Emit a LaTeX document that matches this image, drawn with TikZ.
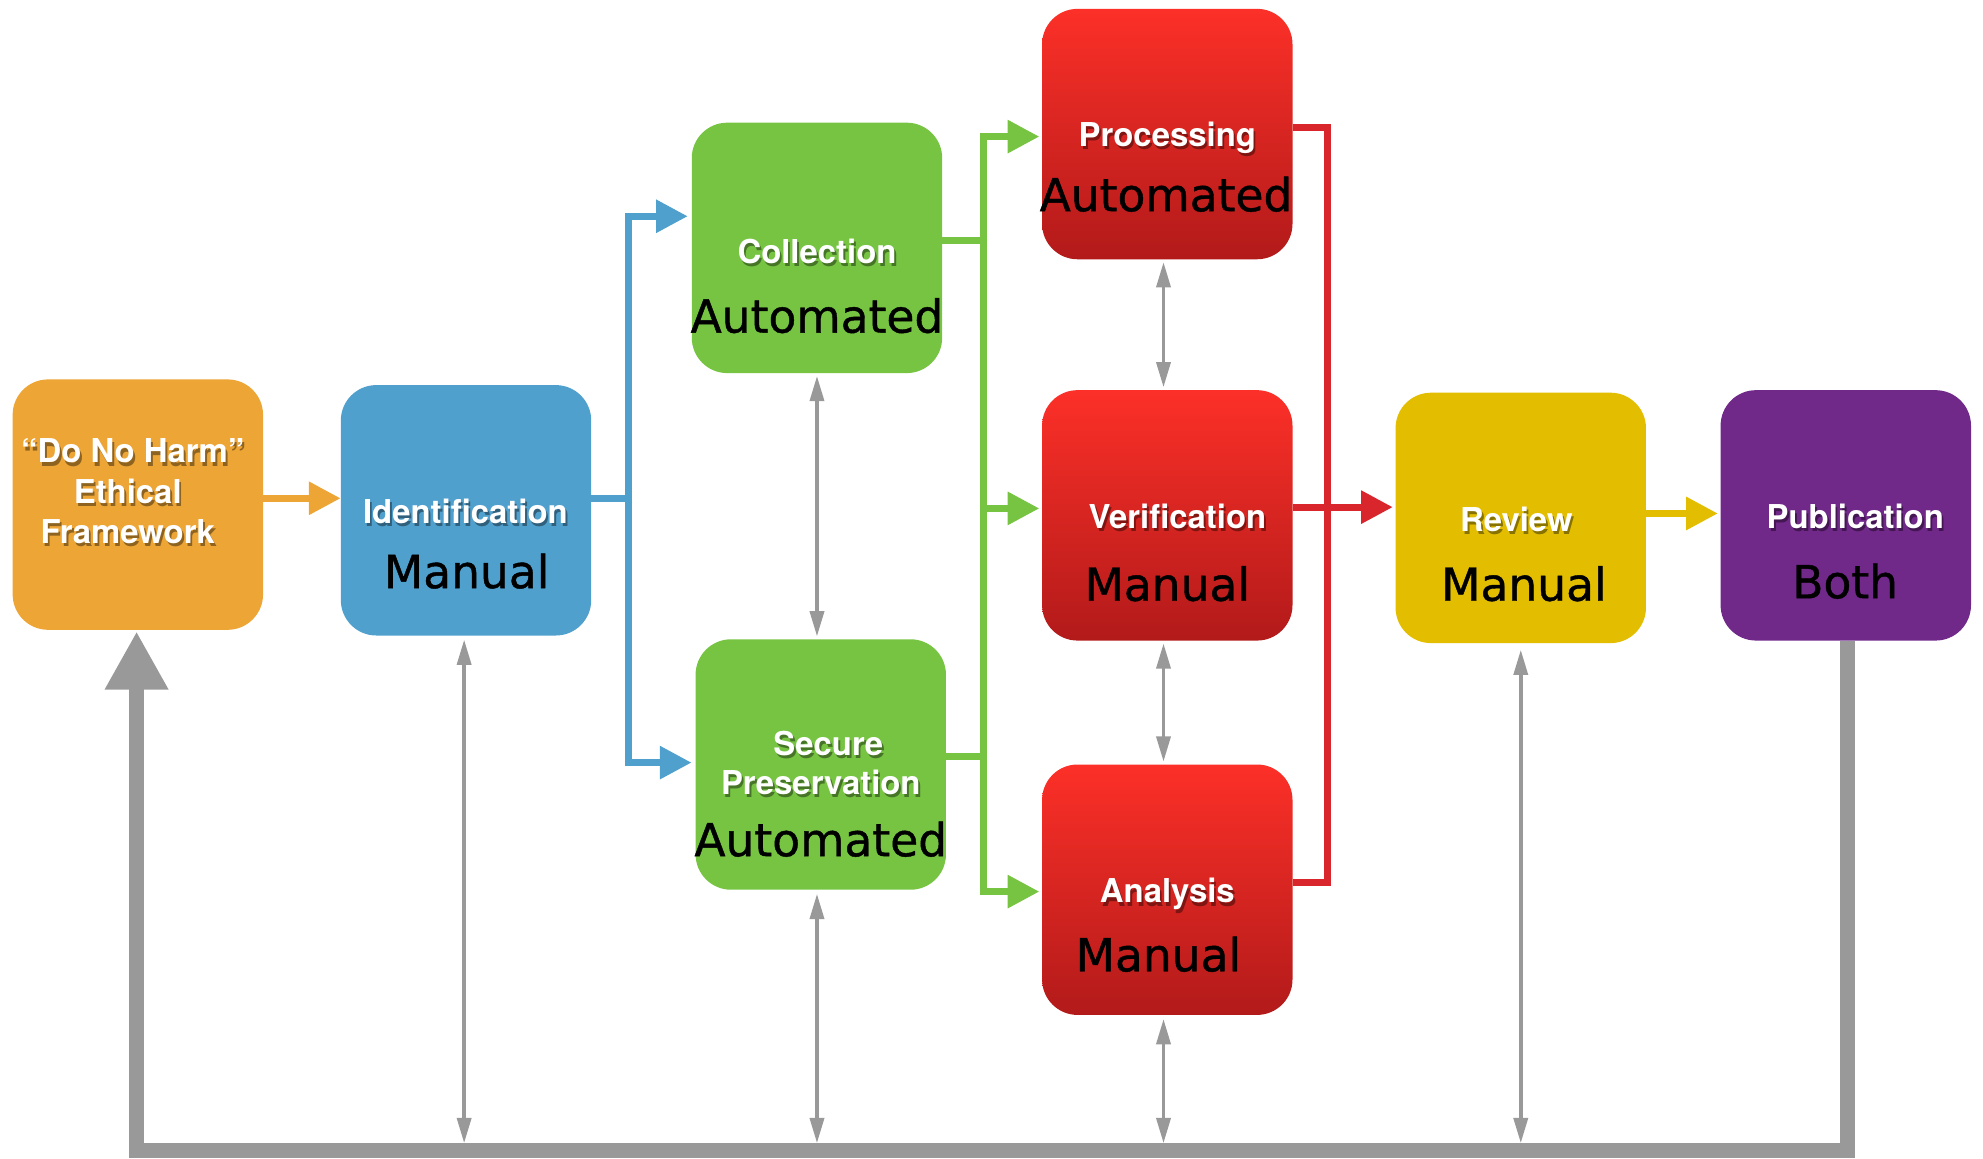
\documentclass[tikz,border=0pt]{standalone}
\usepackage{fontspec}
\setmainfont{DejaVu Sans}
\newfontfamily\herosfont{TeX Gyre Heros}
\newfontfamily\modefont[FakeBold=0.9]{DejaVu Sans}
\usetikzlibrary{arrows.meta,calc}
\definecolor{cOrange}{RGB}{237,165,53}
\definecolor{cBlue}{RGB}{80,160,206}
\definecolor{cGreen}{RGB}{118,196,66}
\definecolor{cRedT}{RGB}{252,48,40}
\definecolor{cRedB}{RGB}{178,26,26}
\definecolor{cRedLine}{RGB}{217,38,45}
\definecolor{cYellow}{RGB}{227,190,0}
\definecolor{cPurple}{RGB}{112,40,137}
\definecolor{cGray}{RGB}{153,153,153}
\begin{document}
\begin{tikzpicture}[x=1pt,y=-1pt,
  box/.style={rounded corners=28pt, minimum width=198pt, minimum height=198pt, inner sep=0pt, draw=none},
  redbox/.style={box, top color=cRedT, bottom color=cRedB},
  lbl/.style={font=\herosfont\bfseries\fontsize{26}{30}\selectfont, text=white, anchor=base, inner sep=0pt},
  lblsh/.style={font=\herosfont\bfseries\fontsize{26}{30}\selectfont, text=black, text opacity=0.4, anchor=base, inner sep=0pt, xshift=1.5pt, yshift=-2.5pt},
  big/.style={font=\modefont\fontsize{36}{40}\selectfont, text=black, anchor=base, inner sep=0pt},
  flow/.style={line width=5.5pt},
  flowarr/.style={line width=5.5pt, -{Triangle[length=25pt,width=25pt]}},
  thin/.style={draw=cGray, line width=3pt, {Triangle[length=20pt,width=11pt]}-{Triangle[length=20pt,width=11pt]}},
  thick/.style={draw=cGray, line width=12pt, line join=miter, -{Triangle[length=46pt,width=47pt]}}
]
\useasboundingbox (0,0) rectangle (1568,916.4);

% boxes
\node[box, fill=cOrange] (ethic) at (109,399) {};
\node[box, fill=cBlue] (ident) at (368.5,403.5) {};
\node[box, fill=cGreen] (coll) at (646,196) {};
\node[box, fill=cGreen] (secure) at (649,604.5) {};
\node[redbox] (proc) at (923,106) {};
\node[redbox] (verif) at (923,407.5) {};
\node[redbox] (anal) at (923,703.5) {};
\node[box, fill=cYellow] (review) at (1202.5,409.5) {};
\node[box, fill=cPurple] (pub) at (1459.5,407.5) {};

% labels (shadow + white)
\newcommand\shadowlabel[3]{%
  \node[lblsh] (#1s) at (#2) {#3};
  \node[lbl] (#1) at (#2) {#3};}
\shadowlabel{le1}{105,366}{“Do No Harm”}
\shadowlabel{le2}{101,398}{Ethical}
\shadowlabel{le3}{101,430}{Framework}
\shadowlabel{li}{368,414}{Identification}
\shadowlabel{lc}{646,208}{Collection}
\shadowlabel{ls1}{655,597}{Secure}
\shadowlabel{ls2}{649,628}{Preservation}
\shadowlabel{lp}{923,116}{Processing}
\shadowlabel{lv}{931,418}{Verification}
\shadowlabel{la}{923,714}{Analysis}
\shadowlabel{lr}{1199,420}{Review}
\shadowlabel{lpu}{1467,418}{Publication}

% mode texts
\node[big] (mi) at (369,465) {Manual};
\node[big] (mc) at (646,263) {Automated};
\node[big] (ms) at (649,677) {Automated};
\node[big] (mp) at (922,167) {Automated};
\node[big] (mv) at (923,475) {Manual};
\node[big] (ma) at (916,768) {Manual};
\node[big] (mr) at (1205,475) {Manual};
\node[big] (mpu) at (1459,473) {Both};

% coordinates for forks
\coordinate (bfork) at (497,394);
\coordinate (gfa) at (778,190);
\coordinate (gfb) at (778,598);
\coordinate (rtop) at (1050,101);
\coordinate (rbot) at (1050,698);
\coordinate (barR) at (1461,910);
\coordinate (barL) at (108,910);

% orange
\draw[flowarr, draw=cOrange] ([yshift=5pt]ethic.east) -- ([yshift=5pt]ethic.east -| ident.west);
% blue
\draw[flow, draw=cBlue] ([yshift=9.5pt]ident.east) -- (bfork);
\draw[flowarr, draw=cBlue, shorten >=3pt] (bfork) |- ([yshift=25pt]coll.west);
\draw[flowarr, draw=cBlue, shorten >=3pt] (bfork) |- ([yshift=1.5pt]secure.west);
% green
\draw[flow, draw=cGreen] ([yshift=6pt]coll.east) -- (gfa);
\draw[flow, draw=cGreen] ([yshift=6.5pt]secure.east) -- (gfb);
\draw[flow, draw=cGreen] (gfa) -- (gfb);
\draw[flowarr, draw=cGreen, shorten >=2pt] (gfa) |- ([yshift=-2pt]proc.west);
\draw[flowarr, draw=cGreen, shorten >=2pt] (gfa) |- ([yshift=5.5pt]verif.west);
\draw[flowarr, draw=cGreen, shorten >=2pt] (gfb) |- ([yshift=-1.5pt]anal.west);
% red
\draw[flow, draw=cRedLine, line join=miter] ([yshift=5pt]proc.east) -- (rtop) -- (rbot) -- ([yshift=5.5pt]anal.east);
\draw[flowarr, draw=cRedLine, shorten >=2pt] ([yshift=6.5pt]verif.east) -- ([yshift=6.5pt]verif.east -| review.west);
% yellow
\draw[flowarr, draw=cYellow, shorten >=2pt] ([yshift=3.5pt]review.east) -- ([yshift=3.5pt]review.east -| pub.west);

% gray thin double arrows
\draw[thin, shorten <=2pt, shorten >=2pt] (coll.south) -- (coll.south |- secure.north);
\draw[thin, shorten <=2pt, shorten >=2pt] ([xshift=-3pt]proc.south) -- ([xshift=-3pt]verif.north);
\draw[thin, shorten <=2pt, shorten >=2pt] ([xshift=-3pt]verif.south) -- ([xshift=-3pt]anal.north);
\draw[thin, shorten <=3pt] ([xshift=-1.5pt]ident.south) -- ([xshift=-1.5pt,yshift=6pt]ident.south |- barL);
\draw[thin, shorten <=3pt] ([xshift=-3pt]secure.south) -- ([xshift=-3pt,yshift=6pt]secure.south |- barL);
\draw[thin, shorten <=3pt] ([xshift=-3pt]anal.south) -- ([xshift=-3pt,yshift=6pt]anal.south |- barL);
\draw[thin, shorten <=5pt] (review.south) -- ([yshift=6pt]review.south |- barL);

% thick feedback
\draw[thick] ([xshift=1.5pt]pub.south) -- (barR) -- (barL) -- ([xshift=-1pt,yshift=-1pt]ethic.south);
\end{tikzpicture}
\end{document}
